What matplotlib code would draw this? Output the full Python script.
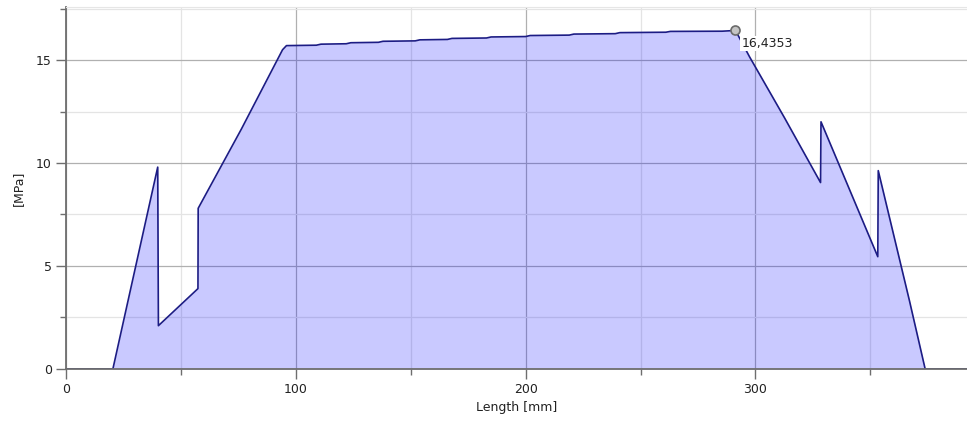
import matplotlib
matplotlib.use("Agg")
import matplotlib.pyplot as plt
from matplotlib.ticker import MultipleLocator

# stress profile along the length
length = [0, 20.5, 40.0, 40.3, 57.5, 57.6, 76.4, 94.3, 96.0,
          109, 111, 122, 124, 136, 138, 152, 154, 166, 168, 183, 185,
          200, 202, 219, 221, 239, 241, 261, 263, 285.5, 291.3,
          297.4, 312.6, 328.3, 328.5, 353.2, 353.4, 367.0, 373.8, 392]
stress = [0, 0, 9.8, 2.1, 3.9, 7.8, 11.65, 15.5, 15.70,
          15.72, 15.77, 15.79, 15.84, 15.86, 15.91, 15.93, 15.98, 16.00, 16.05, 16.07, 16.12,
          16.14, 16.19, 16.21, 16.26, 16.28, 16.33, 16.35, 16.39, 16.40, 16.4353,
          15.16, 12.2, 9.05, 12.0, 5.45, 9.63, 3.3, 0, 0]

peak_x = 291.3
peak_y = 16.4353

fig = plt.figure(figsize=(9.67, 4.30), dpi=100)
ax = fig.add_axes([0.068, 0.142, 0.932, 0.841])

ax.fill_between(length, stress, 0, color='blue', alpha=0.21, linewidth=0)
ax.plot(length, stress, color='#1c1c84', linewidth=1.2)

ax.plot([peak_x], [peak_y], 'o', markersize=6.5, markerfacecolor='#c4c4c4',
        markeredgecolor='#6a6a6a', markeredgewidth=1.2, zorder=5)
ax.annotate('16,4353', xy=(peak_x, peak_y), xytext=(6, -13), textcoords='offset pixels',
            ha='left', va='center', fontsize=9, color='#222222',
            bbox=dict(boxstyle='square,pad=0.1', facecolor='white', edgecolor='none'))

ax.set_xlim(0, 392)
ax.set_ylim(0, 17.56)
ax.xaxis.set_major_locator(MultipleLocator(100))
ax.xaxis.set_minor_locator(MultipleLocator(50))
ax.yaxis.set_major_locator(MultipleLocator(5))
ax.yaxis.set_minor_locator(MultipleLocator(2.5))

ax.grid(which='major', color='#b0b0b0', linewidth=0.9)
ax.grid(which='minor', color='#e4e4e4', linewidth=0.9)
ax.set_axisbelow(True)

for s in ['left', 'bottom']:
    ax.spines[s].set_color('#6e6e6e')
    ax.spines[s].set_linewidth(1.3)
ax.spines['top'].set_color('#e6e6e6')
ax.spines['right'].set_visible(False)

ax.tick_params(which='major', length=7, width=1, color='#6e6e6e', labelsize=9,
               labelcolor='#222222', pad=3)
ax.tick_params(which='minor', length=4, width=1, color='#6e6e6e')

ax.set_xlabel('Length [mm]', fontsize=9, color='#222222', labelpad=4)
ax.set_ylabel('[MPa]', fontsize=9, color='#222222', labelpad=8)

fig.savefig('out.png', dpi=100)
